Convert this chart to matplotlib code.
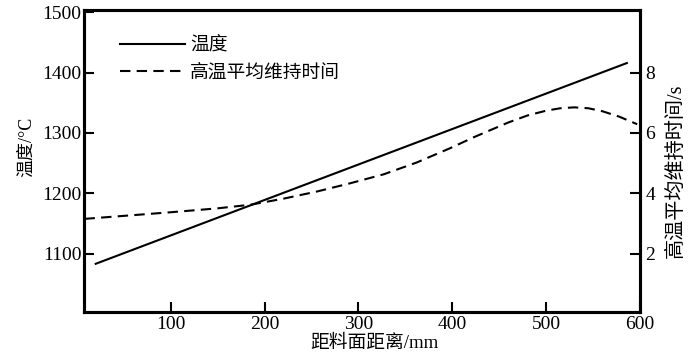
import matplotlib
matplotlib.use("Agg")
import matplotlib.pyplot as plt

plt.rcParams['font.family'] = ['Liberation Serif', 'Noto Sans CJK SC']

# temperature along the distance from the burden surface
temp_dist = [20, 586]
temp = [1083, 1416]

# average holding time at high temperature
hold_dist = [8, 50, 100, 150, 185, 220, 256, 291, 327, 362, 398, 423, 459, 480, 500,
             515, 530, 545, 560, 578, 597]
hold_time = [3.15, 3.25, 3.37, 3.50, 3.62, 3.82, 4.06, 4.33, 4.63, 5.02, 5.50, 5.86, 6.34,
             6.58, 6.74, 6.82, 6.85, 6.82, 6.72, 6.54, 6.29]

x_ticks = [100, 200, 300, 400, 500, 600]
temp_ticks = [1100, 1200, 1300, 1400, 1500]
time_ticks = [2, 4, 6, 8]

fig = plt.figure(figsize=(7, 3.57), dpi=100)
ax = fig.add_axes([0.12, 0.126, 0.7943, 0.846])
ax2 = ax.twinx()

l1, = ax.plot(temp_dist, temp, color='black', lw=1.5, label='温度')
l2, = ax2.plot(hold_dist, hold_time, color='black', lw=1.5, linestyle=(0, (5, 3)),
               label='高温平均维持时间')

ax.set_xlim(7.5, 600)
ax.set_ylim(1003, 1504)
ax2.set_ylim(0.06, 10.08)

ax.set_xticks(x_ticks)
ax.set_yticks(temp_ticks)
ax2.set_yticks(time_ticks)

for a in (ax, ax2):
    for s in a.spines.values():
        s.set_linewidth(2.2)
ax.tick_params(axis='both', direction='in', length=7, width=1.5, labelsize=14)
ax.tick_params(axis='y', pad=2)
ax.tick_params(axis='x', pad=3)
ax2.tick_params(axis='y', direction='in', length=7, width=1.5, labelsize=14, pad=4)

ax.set_xlabel('距料面距离/mm', fontsize=13.5, va='center')
ax.xaxis.set_label_coords(0.523, -0.103)
ax.set_ylabel('温度/°C', fontsize=13, va='center')
ax.yaxis.set_label_coords(-0.103, 0.548)
ax2.set_ylabel('高温平均维持时间/s', fontsize=14.5, va='center')
ax2.yaxis.set_label_coords(1.065, 0.467)

ax.legend([l1, l2], ['温度', '高温平均维持时间'], loc='upper left',
          bbox_to_anchor=(0.065, 0.91), frameon=False, fontsize=13.5,
          handlelength=3.47, handletextpad=0.27, labelspacing=0.51,
          borderpad=0, borderaxespad=0)

fig.savefig('out.png', dpi=100)
